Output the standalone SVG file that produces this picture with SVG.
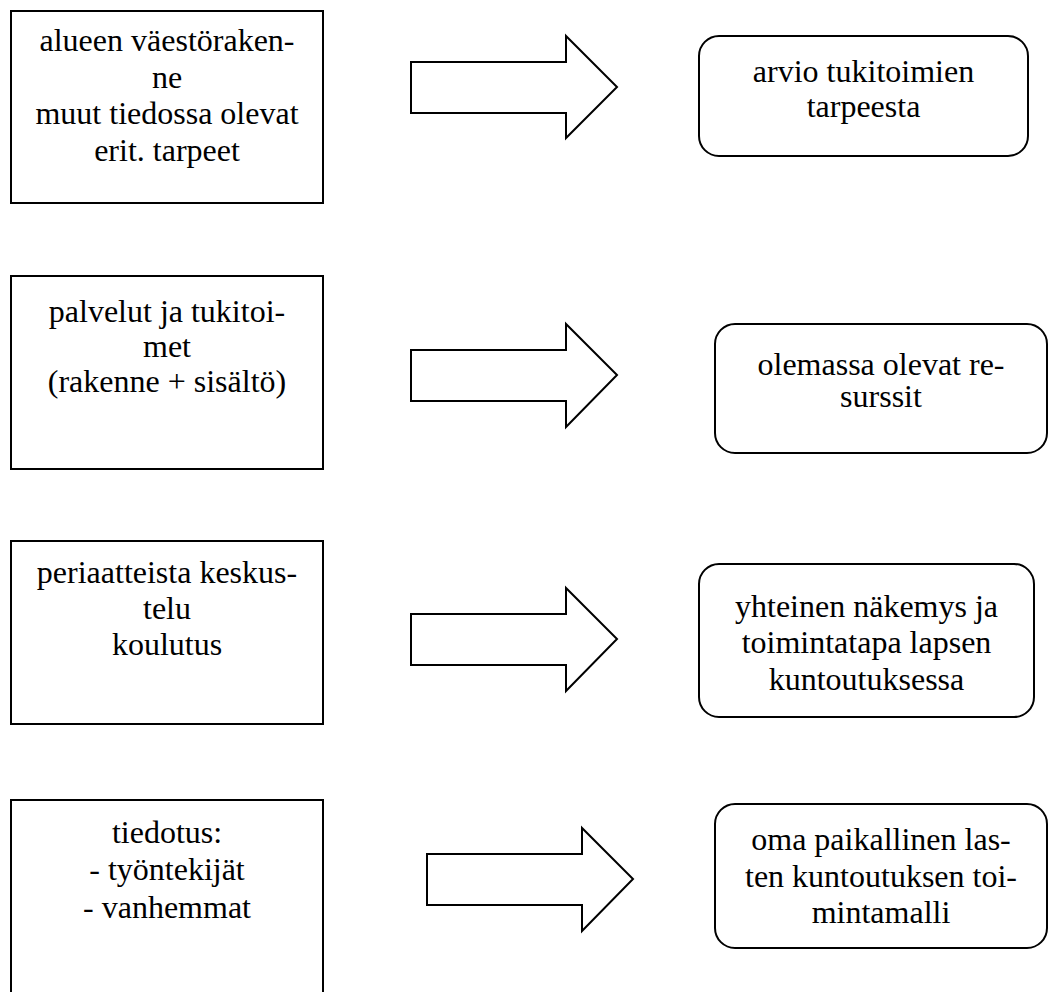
<svg xmlns="http://www.w3.org/2000/svg" width="1048" height="992" viewBox="0 0 1048 992">
<style>
.box{fill:#fff;stroke:#000;stroke-width:2}
.rbox{fill:#fff;stroke:#000;stroke-width:2}
.arr{fill:#fff;stroke:#000;stroke-width:2;stroke-linejoin:miter}
text{font-family:"Liberation Serif","Times New Roman",serif;font-size:32px;fill:#000;text-anchor:middle}
</style>
<rect width="1048" height="992" fill="#fff"/>
<g id="n1">
<rect class="box" x="11" y="11" width="312" height="192"/>
<text x="167" y="51">alueen väestöraken-</text>
<text x="167" y="87.5">ne</text>
<text x="167" y="124">muut tiedossa olevat</text>
<text x="167" y="160.5">erit. tarpeet</text>
</g>
<g id="n2">
<rect class="box" x="11" y="276" width="312" height="193"/>
<text x="167" y="321.5">palvelut ja tukitoi-</text>
<text x="167" y="357">met</text>
<text x="167" y="392">(rakenne + sisältö)</text>
</g>
<g id="n3">
<rect class="box" x="11" y="541" width="312" height="183"/>
<text x="167" y="583">periaatteista keskus-</text>
<text x="167" y="618.5">telu</text>
<text x="167" y="655">koulutus</text>
</g>
<g id="n4">
<rect class="box" x="11" y="800" width="312" height="200"/>
<text x="167" y="843">tiedotus:</text>
<text x="167" y="880">- työntekijät</text>
<text x="167" y="917.5">- vanhemmat</text>
</g>
<g id="r1">
<rect class="rbox" x="699" y="36" width="329" height="120" rx="20" ry="20"/>
<text x="863.5" y="81.5">arvio tukitoimien</text>
<text x="863.5" y="117">tarpeesta</text>
</g>
<g id="r2">
<rect class="rbox" x="715" y="324" width="332" height="129" rx="20" ry="20"/>
<text x="881" y="374.5">olemassa olevat re-</text>
<text x="881" y="407">surssit</text>
</g>
<g id="r3">
<rect class="rbox" x="699" y="564" width="335" height="153" rx="20" ry="20"/>
<text x="866.5" y="616.5">yhteinen näkemys ja</text>
<text x="866.5" y="653">toimintatapa lapsen</text>
<text x="866.5" y="690">kuntoutuksessa</text>
</g>
<g id="r4">
<rect class="rbox" x="715" y="804" width="332" height="144" rx="20" ry="20"/>
<text x="881" y="850">oma paikallinen las-</text>
<text x="881" y="886.5">ten kuntoutuksen toi-</text>
<text x="881" y="923">mintamalli</text>
</g>
<g id="connectors">
<path class="arr" d="M411,62 H566 V36 L617,87 L566,138 V113 H411 Z"/>
<path class="arr" d="M411,350 H566 V324 L617,375 L566,427 V401 H411 Z"/>
<path class="arr" d="M411,614 H566 V588 L617,639 L566,691 V665 H411 Z"/>
<path class="arr" d="M427,854 H582 V828 L633,879 L582,931 V905 H427 Z"/>
</g>
</svg>
